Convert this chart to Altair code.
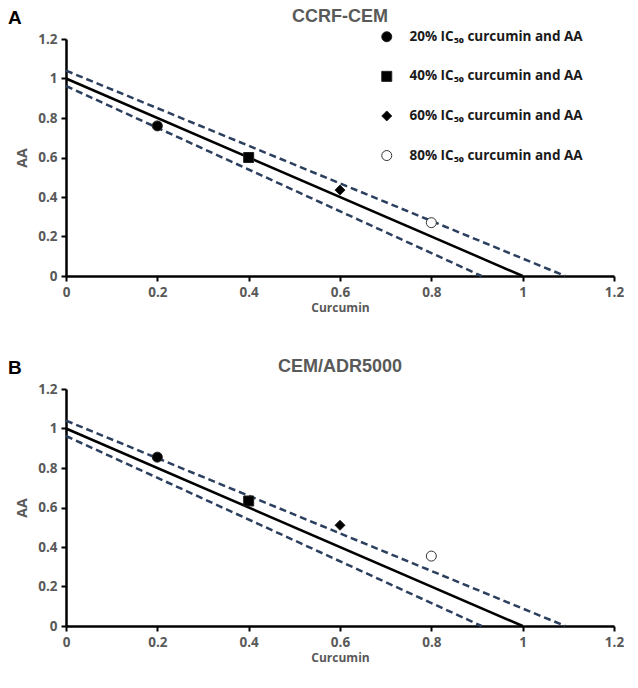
import altair as alt
import pandas as pd

# ---- data ----
series = ["20% IC₅₀ curcumin and AA", "40% IC₅₀ curcumin and AA",
          "60% IC₅₀ curcumin and AA", "80% IC₅₀ curcumin and AA"]
curcumin = [0.2, 0.4, 0.6, 0.8]
aa_ccrf = [0.76, 0.60, 0.435, 0.27]
aa_adr = [0.855, 0.633, 0.51, 0.354]

line_names = ["additive", "additive", "upper", "upper", "lower", "lower"]
line_x = [0.0, 1.0, 0.0, 1.093, 0.0, 0.91]
line_y = [1.0, 0.0, 1.04, 0.0, 0.962, 0.0]

ticks = [0, 0.2, 0.4, 0.6, 0.8, 1.0, 1.2]

FONT = "Open Sans"
TFONT = "Liberation Sans"
GRAY = "#595959"
DASH = "#2B3F5E"

lines_df = pd.DataFrame({"line": line_names, "x": line_x, "y": line_y})


def panel(title, letter, yvals, show_legend):
    pts = pd.DataFrame({"series": series, "x": curcumin, "y": yvals})
    xenc = alt.X("x:Q", scale=alt.Scale(domain=[0, 1.2], nice=False),
                 axis=alt.Axis(values=ticks, format=".1~f", title="Curcumin",
                               titleFontSize=12, titlePadding=4))
    yenc = alt.Y("y:Q", scale=alt.Scale(domain=[0, 1.2], nice=False),
                 axis=alt.Axis(values=ticks, format=".1~f", title="AA",
                               titleFontSize=14, titlePadding=8))
    solid = alt.Chart(lines_df).transform_filter(
        alt.datum.line == "additive").mark_line(
        color="black", strokeWidth=2.5).encode(x=xenc, y=yenc, detail="line:N")
    dashed = alt.Chart(lines_df).transform_filter(
        alt.datum.line != "additive").mark_line(
        color=DASH, strokeWidth=2.5, strokeDash=[7, 4]).encode(
        x=xenc, y=yenc, detail="line:N")
    if show_legend:
        leg = alt.Legend(title=None, orient="none", legendX=314, legendY=-9,
                         rowPadding=24.6, labelFontSize=13.5, labelFont=FONT,
                         labelFontWeight="bold", labelColor="#1a1a1a",
                         labelLimit=400,
                         symbolSize=100, symbolStrokeWidth=1, labelOffset=16,
                         padding=0)
    else:
        leg = None
    points = alt.Chart(pts).mark_point(
        filled=False, strokeWidth=1, opacity=1, size=100).encode(
        x=xenc, y=yenc,
        shape=alt.Shape("series:N", scale=alt.Scale(
            domain=series, range=["circle", "square", "diamond", "circle"]),
            legend=leg),
        fill=alt.Fill("series:N", scale=alt.Scale(
            domain=series, range=["black", "black", "black", "white"]),
            legend=leg),
        stroke=alt.Stroke("series:N", scale=alt.Scale(
            domain=series, range=["#222", "#222", "#222", "#333"]),
            legend=leg),
    )
    one = alt.Chart(pts).transform_filter(alt.datum.series == series[0])
    lab = one.mark_text(
        text=letter, fontSize=19, fontWeight="bold", font=TFONT, color="black",
        align="left", baseline="top").encode(x=alt.value(-58), y=alt.value(-30))
    ttl = one.mark_text(
        text=title, fontSize=18, fontWeight="bold", font=TFONT, color=GRAY,
        align="center", baseline="top").encode(x=alt.value(274), y=alt.value(-31))
    return alt.layer(solid, dashed, points, lab, ttl).properties(
        width=548, height=237)


chart = alt.vconcat(
    panel("CCRF-CEM", "A", aa_ccrf, True),
    panel("CEM/ADR5000", "B", aa_adr, False),
    spacing=44,
).resolve_scale(shape="independent", fill="independent",
                stroke="independent").properties(
    padding=0
).configure_view(stroke=None).configure_axis(
    grid=False, domainColor="black", domainWidth=2.5, tickColor="black",
    tickWidth=2, tickSize=5, labelFont=FONT, labelFontWeight="bold",
    labelColor=GRAY, labelFontSize=13.5, labelFlush=False, labelPadding=4,
    titleFont=FONT, titleFontWeight="bold", titleColor=GRAY
)

chart.save("out.html", embed_options={"renderer": "svg", "actions": False})
